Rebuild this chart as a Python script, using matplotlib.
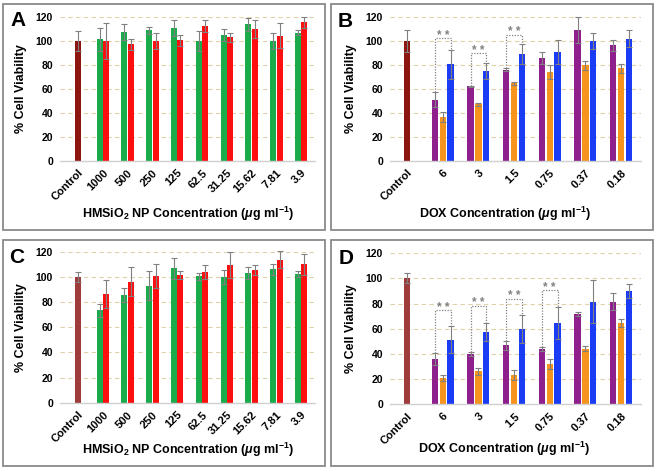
import numpy as np
import matplotlib
matplotlib.use("Agg")
import matplotlib.pyplot as plt
from matplotlib.patches import Rectangle

plt.rcParams["font.family"] = ["Liberation Sans", "DejaVu Sans"]
plt.rcParams["font.weight"] = "bold"
plt.rcParams["mathtext.fontset"] = "custom"
plt.rcParams["mathtext.rm"] = "Liberation Sans:bold"
plt.rcParams["mathtext.it"] = "Liberation Sans:bold:italic"
plt.rcParams["mathtext.bf"] = "Liberation Sans:bold"

# ---- data ----
np_cats = ["Control", "1000", "500", "250", "125", "62.5", "31.25", "15.62", "7.81", "3.9"]
dox_cats = ["Control", "6", "3", "1.5", "0.75", "0.37", "0.18"]

# panel A
a_ctrl, a_ctrl_err = 100, 8.5
a_green = [101.4, 107.5, 108.9, 111, 100, 105, 113.9, 100, 107]
a_green_err = [9.4, 6.5, 2.8, 6.7, 8.3, 5.3, 5.5, 6.7, 2]
a_red = [100, 97.2, 100, 100.6, 112.8, 103, 110.3, 104.4, 115.6]
a_red_err = [15, 4.8, 6.7, 4.7, 5, 3.9, 7.5, 10.6, 4.4]

# panel B
b_ctrl, b_ctrl_err = 100, 9
b_purple = [51, 62, 76, 86, 109, 96.5]
b_purple_err = [6.5, 0.5, 1, 5, 11, 4.5]
b_orange = [36.5, 47, 64.5, 74, 79.5, 77]
b_orange_err = [4.5, 1.5, 1.5, 5.5, 4, 3.5]
b_blue = [80.5, 75, 89, 90.5, 100, 102]
b_blue_err = [12, 6.5, 8.5, 10, 6.5, 7]
b_sig_groups = [1, 2, 3]
b_sig_top = [102.5, 90, 105.3]

# panel C
c_ctrl, c_ctrl_err = 100, 4
c_green = [73.4, 85.3, 93, 106.8, 100.4, 100, 103.3, 106, 102]
c_green_err = [5, 5.5, 11.5, 8.5, 3, 5.5, 4.8, 4.2, 2.5]
c_red = [86.4, 96.2, 100.7, 101.5, 104.1, 109.4, 105.4, 113.6, 110]
c_red_err = [11.5, 11.5, 9.5, 3.5, 5.5, 10.5, 4.3, 6.7, 8.4]

# panel D
d_ctrl, d_ctrl_err = 100, 4
d_purple = [36, 40, 47, 44, 72, 81.6]
d_purple_err = [5, 1.5, 3.5, 1.5, 1.5, 7]
d_orange = [21, 26.2, 23, 31.8, 44, 64.4]
d_orange_err = [2.5, 3, 4, 4, 2, 3]
d_blue = [51.4, 57.5, 59.6, 64.6, 81.6, 90]
d_blue_err = [11, 7, 11, 13, 17, 5.5]
d_sig_groups = [1, 2, 3, 4]
d_sig_top = [75, 78.4, 84, 90.6]

GREEN, RED = "#1aab4b", "#fe0f0f"
PURPLE, ORANGE, BLUE = "#8e1f8c", "#f7941d", "#1a3cf5"
ERR = "#808080"
GRID = "#ddd2a8"

W, H = 656, 473
fig = plt.figure(figsize=(W / 100, H / 100), dpi=100)


def frac_box(x0, y0, x1, y1):
    return [x0 / W, 1 - y1 / H, (x1 - x0) / W, (y1 - y0) / H]


def style_axes(ax, cats, xlim):
    ax.set_xlim(*xlim)
    ax.set_ylim(0, 120)
    ax.set_yticks(range(0, 121, 20))
    for s in ["top", "right", "left"]:
        ax.spines[s].set_visible(False)
    ax.spines["bottom"].set_color("#d0d0d0")
    ax.spines["bottom"].set_linewidth(1.0)
    for y in range(20, 121, 20):
        ax.axhline(y, color=GRID, lw=0.8, ls=(0, (4, 3)), zorder=0)
    ax.tick_params(length=0, labelsize=7.5, pad=5)
    ax.set_xticks(range(len(cats)))
    ax.set_xticklabels(cats, rotation=45, ha="right", va="top",
                       rotation_mode="anchor", fontsize=8, fontweight="bold")
    ax.tick_params(axis="x", pad=5)
    for lab in ax.get_yticklabels():
        lab.set_fontweight("bold")
    ax.set_ylabel("% Cell Viability", fontsize=9, fontweight="bold", labelpad=6)


def bars(ax, x, vals, errs, color, width):
    ax.bar(x, vals, width=width, color=color, zorder=2)
    ax.errorbar(x, vals, yerr=errs, fmt="none", ecolor=ERR, elinewidth=0.8,
                capsize=2.2, capthick=0.8, zorder=3, clip_on=False)


def np_panel(ax, ctrl, ctrl_err, ctrl_color, green, green_err, red, red_err):
    style_axes(ax, np_cats, (-0.73, 9.56))
    x = np.arange(1, len(np_cats))
    w = 0.24
    bars(ax, [0], [ctrl], [ctrl_err], ctrl_color, w)
    bars(ax, x - 0.13, green, green_err, GREEN, w)
    bars(ax, x + 0.13, red, red_err, RED, w)


def dox_panel(ax, ctrl, ctrl_err, ctrl_color, pur, pur_err, ora, ora_err,
              blu, blu_err, sig_groups, sig_top):
    style_axes(ax, dox_cats, (-0.48, 6.56))
    x = np.arange(1, len(dox_cats))
    w, off = 0.18, 0.22
    bars(ax, [0], [ctrl], [ctrl_err], ctrl_color, w)
    bars(ax, x - off, pur, pur_err, PURPLE, w)
    bars(ax, x, ora, ora_err, ORANGE, w)
    bars(ax, x + off, blu, blu_err, BLUE, w)
    for g, top in zip(sig_groups, sig_top):
        i = g - 1
        xl, xr = g - off, g + off
        yl = pur[i] + pur_err[i]
        yr = blu[i] + blu_err[i]
        ax.plot([xl, xl, xr, xr], [yl, top, top, yr], color=ERR, lw=0.9,
                ls=(0, (1, 1.2)), zorder=4)
        ax.text(g, top - 0.5, "* *", ha="center", va="baseline", fontsize=8.5,
                color=ERR, fontweight="bold")


axA = fig.add_axes(frac_box(60, 17, 315, 160.7))
axB = fig.add_axes(frac_box(390, 17, 641, 160.7))
axC = fig.add_axes(frac_box(60, 251.7, 315, 402.7))
axD = fig.add_axes(frac_box(390, 253.3, 641, 404.3))

np_panel(axA, a_ctrl, a_ctrl_err, "#8c1510", a_green, a_green_err, a_red, a_red_err)
dox_panel(axB, b_ctrl, b_ctrl_err, "#8c1510", b_purple, b_purple_err, b_orange,
          b_orange_err, b_blue, b_blue_err, b_sig_groups, b_sig_top)
np_panel(axC, c_ctrl, c_ctrl_err, "#9e3b3b", c_green, c_green_err, c_red, c_red_err)
dox_panel(axD, d_ctrl, d_ctrl_err, "#9e3b3b", d_purple, d_purple_err, d_orange,
          d_orange_err, d_blue, d_blue_err, d_sig_groups, d_sig_top)

# x labels, panel letters, frames
np_label = r"HMSiO$_2$ NP Concentration ($\mu$g ml$^{-1}$)"
dox_label = r"DOX Concentration ($\mu$g ml$^{-1}$)"
for (xc, yc, txt) in [(188, 214, np_label), (505, 214, dox_label),
                      (188, 450, np_label), (504, 449, dox_label)]:
    fig.text(xc / W, 1 - yc / H, txt, ha="center", va="center",
             fontsize=9, fontweight="bold")

for (xc, yc, letter) in [(18, 20, "A"), (345, 21, "B"), (17, 257, "C"), (346, 258, "D")]:
    fig.text(xc / W, 1 - yc / H, letter, ha="center", va="center",
             fontsize=15, fontweight="bold")

for (x0, y0, x1, y1) in [(3, 4, 325, 230), (331, 4, 653, 230),
                         (3, 240, 325, 466), (331, 240, 653, 466)]:
    fig.patches.append(Rectangle((x0 / W, 1 - y1 / H), (x1 - x0) / W, (y1 - y0) / H,
                                 transform=fig.transFigure, fill=False,
                                 edgecolor="#8a8a8a", lw=1.3))

fig.savefig("out.png", dpi=100)
